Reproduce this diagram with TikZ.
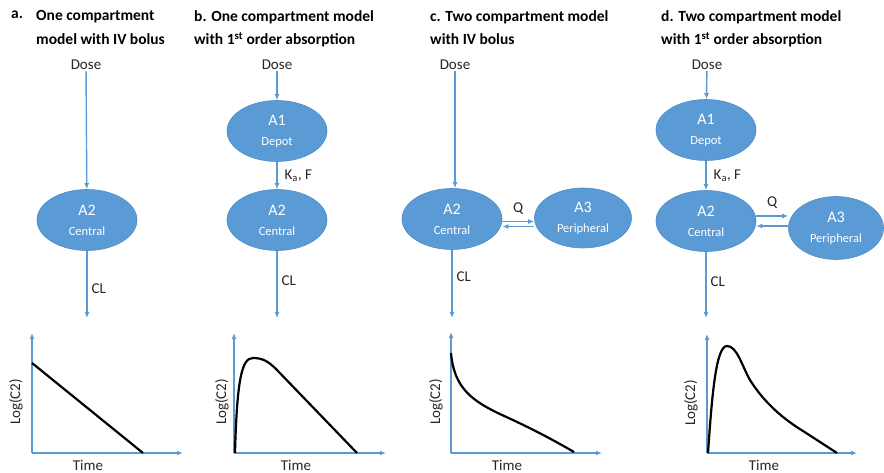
\documentclass[tikz,border=0pt]{standalone}
\usepackage{fontspec}
\setmainfont{Carlito}
\usetikzlibrary{arrows.meta,shapes.geometric}
\definecolor{pkblue}{HTML}{5B9BD5}
\definecolor{pkedge}{HTML}{4F8BC4}
\definecolor{txtgray}{HTML}{262626}

\begin{document}
\begin{tikzpicture}[x=1pt,y=-1pt,
    cmt/.style={ellipse,fill=pkblue,draw=pkedge,line width=0.6pt,text=white,
        minimum width=100pt,minimum height=61pt,inner sep=0pt,align=center,
        font=\fontsize{16}{20}\selectfont},
    flow/.style={pkblue,line width=1.4pt,-{Latex[length=6pt,width=5pt]}},
    lbl/.style={text=txtgray,font=\fontsize{15}{18}\selectfont,inner sep=1pt},
    ttl/.style={font=\fontsize{15.5}{23.4}\selectfont\bfseries,align=left,
        anchor=north west,inner sep=0pt},
    curve/.style={black,line width=2.2pt,line join=round}]
  \useasboundingbox (0,0) rectangle (884,473);

  %titles
  \node[ttl] (tA0) at (11,10.5) {a.};
  \node[ttl] (tA) at (36,10.5) {One compartment\\model with IV bolus};
  \node[ttl] (tB) at (194,10.5) {b. One compartment model\\with 1\textsuperscript{st} order absorption};
  \node[ttl] (tC) at (430,10.5) {c. Two compartment model\\with IV bolus};
  \node[ttl] (tD) at (661,10.5) {d. Two compartment model\\with 1\textsuperscript{st} order absorption};

  %panel a
  \node[lbl] (doseA) at (86,65) {Dose};
  \node[cmt] (ctrA) at (87,220) {A2\\{\fontsize{12.5}{12}\selectfont Central}};
  \coordinate (clA) at (87,318);
  \draw[flow] (doseA) -- (ctrA);
  \draw[flow] (ctrA) -- (clA) node[lbl,anchor=west,pos=0.5,xshift=3pt,yshift=-4pt] (clAl) {CL};

  %panel b
  \node[lbl] (doseB) at (277,65) {Dose};
  \node[cmt] (depB) at (277,131) {A1\\{\fontsize{12.5}{12}\selectfont Depot}};
  \node[cmt] (ctrB) at (277,220) {A2\\{\fontsize{12.5}{12}\selectfont Central}};
  \coordinate (clB) at (277,318);
  \draw[flow] (doseB) -- (depB);
  \draw[flow] (depB) -- (ctrB) node[lbl,anchor=west,pos=0.5,xshift=6pt] (kaB) {K\textsubscript{a}, F};
  \draw[flow] (ctrB) -- (clB) node[lbl,anchor=west,pos=0.45,xshift=3pt] (clBl) {CL};

  %panel c
  \node[lbl] (doseC) at (455,65) {Dose};
  \node[cmt] (ctrC) at (452,219) {A2\\{\fontsize{12.5}{12}\selectfont Central}};
  \node[cmt,minimum width=97pt,minimum height=60pt] (perC) at (583,218) {A3\\{\fontsize{12.5}{12}\selectfont Peripheral}};
  \coordinate (clC) at (452,318);
  \draw[flow] (doseC) -- (doseC |- ctrC.north);
  \draw[flow] ([yshift=-2.5pt]ctrC.east) -- ([yshift=-2.5pt]ctrC.east -| perC.west) node[lbl,midway,above=5pt] (qC) {Q};
  \draw[flow] ([yshift=-7.5pt]ctrC.east -| perC.west) -- ([yshift=-7.5pt]ctrC.east);
  \draw[flow] (ctrC) -- (clC) node[lbl,anchor=west,pos=0.4,xshift=3pt] (clCl) {CL};

  %panel d
  \node[lbl] (doseD) at (707,65) {Dose};
  \node[cmt] (depD) at (706,130) {A1\\{\fontsize{12.5}{12}\selectfont Depot}};
  \node[cmt] (ctrD) at (706,221) {A2\\{\fontsize{12.5}{12}\selectfont Central}};
  \node[cmt,minimum width=95pt,minimum height=63pt] (perD) at (836,228) {A3\\{\fontsize{12.5}{12}\selectfont Peripheral}};
  \coordinate (clD) at (706,318);
  \draw[flow] (doseD) -- (depD);
  \draw[flow] (depD) -- (ctrD) node[lbl,anchor=west,pos=0.5,xshift=6pt] (kaD) {K\textsubscript{a}, F};
  \draw[flow] ([yshift=5pt]ctrD.east) -- ([yshift=5pt]ctrD.east -| perD.west) node[lbl,midway,above=6pt] (qD) {Q};
  \draw[flow] ([yshift=-5pt]ctrD.east -| perD.west) -- ([yshift=-5pt]ctrD.east);
  \draw[flow] (ctrD) -- (clD) node[lbl,anchor=west,pos=0.45,xshift=3pt] (clDl) {CL};

  %plots
  \coordinate (oA) at (32,453);  \coordinate (yA) at (32,333);  \coordinate (xA) at (183,453);
  \coordinate (oB) at (234,453); \coordinate (yB) at (234,333); \coordinate (xB) at (386,453);
  \coordinate (oC) at (451,453); \coordinate (yC) at (451,332); \coordinate (xC) at (602,453);
  \coordinate (oD) at (707,453); \coordinate (yD) at (707,334); \coordinate (xD) at (857,453);
  \foreach \p in {A,B,C,D}{
    \draw[flow] (o\p) -- (y\p);
    \draw[flow] (o\p) -- (x\p);
  }
  \node[lbl,rotate=90] (logA) at (16,402) {Log(C2)};
  \node[lbl,rotate=90] (logB) at (222,402) {Log(C2)};
  \node[lbl,rotate=90] (logC) at (436,402) {Log(C2)};
  \node[lbl,rotate=90] (logD) at (691,403) {Log(C2)};
  \node[lbl] (timeA) at (88,465) {Time};
  \node[lbl] (timeB) at (296,465) {Time};
  \node[lbl] (timeC) at (507,465) {Time};
  \node[lbl] (timeD) at (764,465) {Time};

  %curves
  \draw[curve] (32,363) -- (143,453);
  \draw[curve] (235,453) .. controls (237,378) and (242,358) .. (253,358)
      .. controls (262,358) and (268,361) .. (276,369) -- (357,453);
  \draw[curve] (451,353) .. controls (454,388) and (472,401) .. (502,415)
      .. controls (533,429) and (555,441) .. (574,452);
  \draw[curve] (708,453) .. controls (712,395) and (716,346) .. (727,346)
      .. controls (737,346) and (742,366) .. (750,380)
      .. controls (765,404) and (785,420) .. (803,431) -- (837,453);
\end{tikzpicture}
\end{document}
